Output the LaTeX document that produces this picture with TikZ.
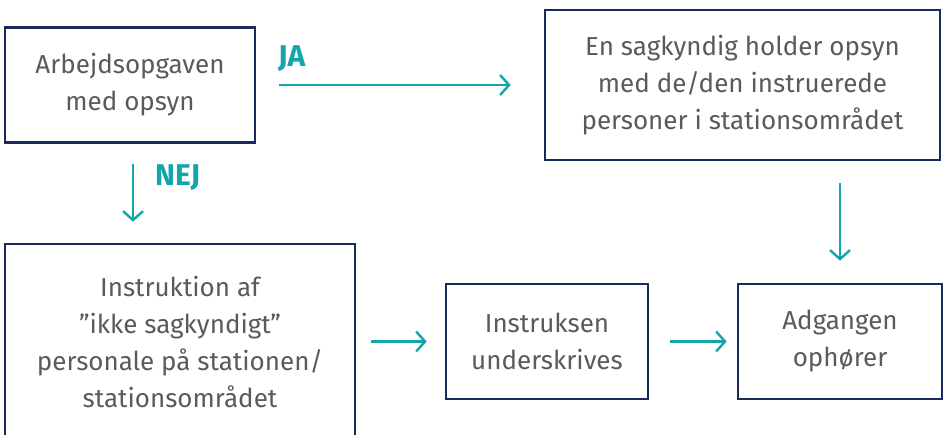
\documentclass[tikz,border=0pt]{standalone}
\usepackage{fontspec}
\setmainfont{Fira Sans}
\usetikzlibrary{arrows.meta}
\definecolor{navy}{HTML}{1B2A5C}
\definecolor{teal2}{HTML}{12A5AB}
\definecolor{txt}{HTML}{5A5A5A}
\tikzset{
  box/.style={draw=navy, line width=2.6pt, rectangle, inner sep=0pt, align=center,
    text=txt, font=\fontsize{26}{37}\selectfont},
  arr/.style={draw=teal2, line width=2.4pt, -{Straight Barb[length=9pt,width=20pt,line width=2.4pt]}},
  lbl/.style={text=teal2, font=\fontsize{30}{32}\selectfont\bfseries, inner sep=0pt}
}
\begin{document}
\begin{tikzpicture}[x=1pt,y=-1pt]
\useasboundingbox (0,0) rectangle (944,434);
\clip (0,0) rectangle (944,434);
\node[box, minimum width=250pt, minimum height=115pt] (A) at (130,85) {Arbejdsopgaven\\med opsyn};
\node[box, minimum width=395pt, minimum height=150pt] (B) at (742.5,85) {En sagkyndig holder opsyn\\med de/den instruerede\\personer i stationsområdet};
\node[box, minimum width=350pt, minimum height=196pt] (C) at (180,342) {Instruktion af\\”ikke sagkyndigt”\\personale på stationen/\\stationsområdet};
\node[box, minimum width=202pt, minimum height=115pt] (D) at (547,341.5) {Instruksen\\underskrives};
\node[box, minimum width=204pt, minimum height=115pt] (E) at (840,341.5) {Adgangen\\ophører};
\draw[arr, shorten <=23pt, shorten >=33pt] (A) -- (B);
\node[lbl, anchor=base west] (ja) at (278,66) {JA};
\draw[arr, shorten <=20pt, shorten >=21pt] ([xshift=3pt]A.south) -- ([xshift=3pt]A.south |- C.north);
\node[lbl, anchor=base west] (nej) at (155,185) {NEJ};
\draw[arr, shorten <=15pt, shorten >=18pt] (C.east |- D.west) -- (D.west);
\draw[arr, shorten <=21pt, shorten >=10pt] (D) -- (E);
\draw[arr, shorten <=22pt, shorten >=22pt] (E.north |- B.south) -- (E.north);
\end{tikzpicture}
\end{document}
